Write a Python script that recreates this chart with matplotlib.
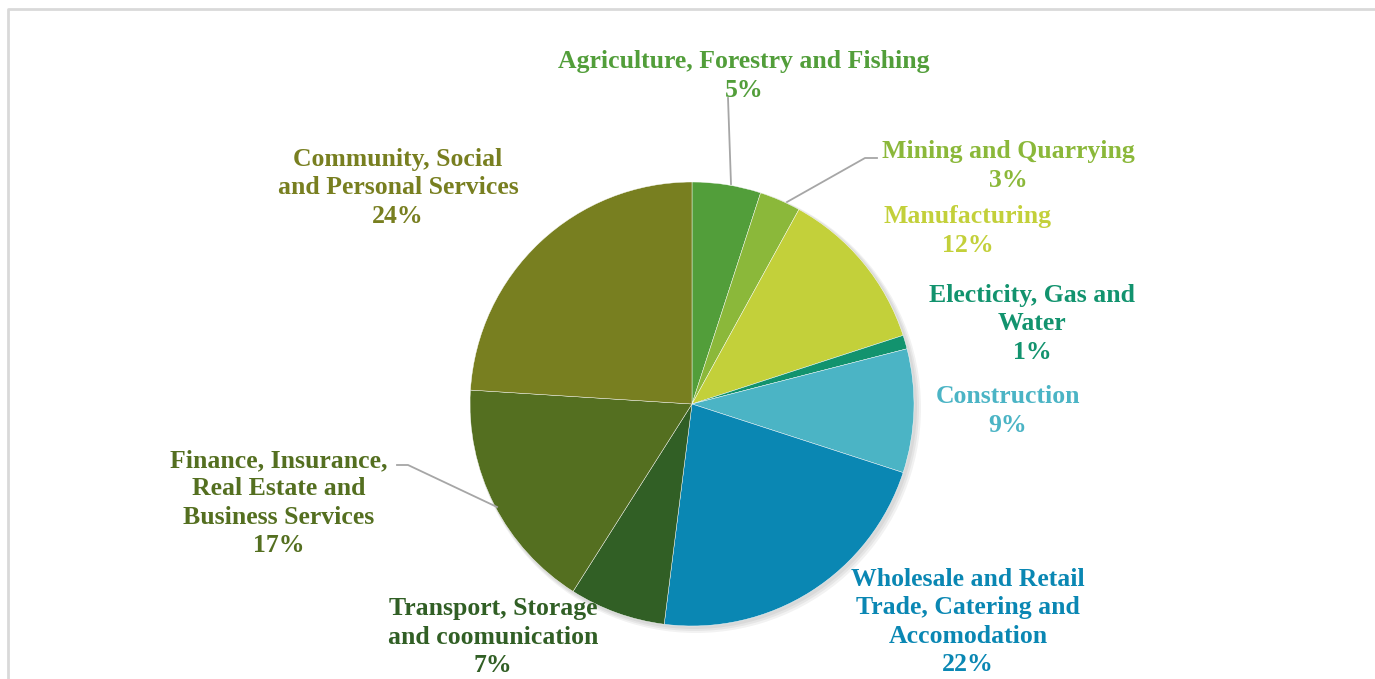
import matplotlib.pyplot as plt
from matplotlib.patches import Circle

# GDP share by sector
sectors = ['Agriculture, Forestry and Fishing', 'Mining and Quarrying', 'Manufacturing',
           'Electicity, Gas and\nWater', 'Construction',
           'Wholesale and Retail\nTrade, Catering and\nAccomodation',
           'Transport, Storage\nand coomunication',
           'Finance, Insurance,\nReal Estate and\nBusiness Services',
           'Community, Social\nand Personal Services']
shares = [5, 3, 12, 1, 9, 22, 7, 17, 24]
colours = ['#529e3a', '#8bb83a', '#c3d03a', '#12936e', '#4bb4c5',
           '#0a87b3', '#315f25', '#546f20', '#787f20']

# label anchors (px, from top-left) and leader lines
label_pos = [(744, 76), (1008, 166), (968, 231), (1032, 324), (1008, 411),
             (968, 622), (493, 637), (279, 503), (398, 188)]
leaders = {0: [(731, 184), (728, 98)],
           1: [(787, 202), (865, 158), (877, 158)],
           7: [(497, 507), (408, 465), (397, 465)]}

W, H = 1375, 679
cx, cy, r = 692, 404, 222

fig = plt.figure(figsize=(13.75, 6.79), dpi=100)
ax = fig.add_axes([0, 0, 1, 1])

# soft shadow under the pie
for k, a in enumerate([0.05, 0.05, 0.05]):
    ax.add_patch(Circle((cx + 2 + k, H - cy - 2 - k), r + 1 + k, color='k', alpha=a, lw=0, zorder=0))

ax.pie(shares, colors=colours, startangle=90, counterclock=False,
       center=(cx, H - cy), radius=r,
       wedgeprops=dict(edgecolor='white', linewidth=0.3), frame=False)

for i, (name, val) in enumerate(zip(sectors, shares)):
    x, y = label_pos[i]
    ax.text(x, H - y, f'{name}\n{val}%', ha='center', va='center',
            color=colours[i], fontsize=18.5, fontweight='bold',
            family='Liberation Serif', linespacing=1.3)

for pts in leaders.values():
    xs = [p[0] for p in pts]
    ys = [H - p[1] for p in pts]
    ax.plot(xs, ys, color='#a6a6a6', lw=1.3, zorder=3)

# chart area border (left and top edges)
ax.plot([8, 8, W], [0, H - 9, H - 9], color='#d9d9d9', lw=2)

ax.set_xlim(0, W)
ax.set_ylim(0, H)
ax.set_aspect('equal')
ax.axis('off')

plt.savefig('out.png', dpi=100)
